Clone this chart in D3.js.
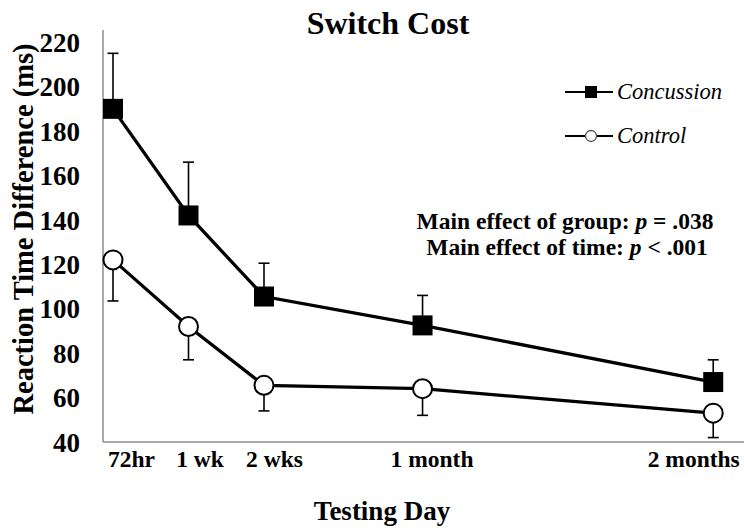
<!DOCTYPE html>
<meta charset="utf-8">
<style>
body { margin: 0; background: #fff; }
</style>
<svg width="744" height="529"></svg>
<script src="https://d3js.org/d3.v7.min.js"></script>
<script>
// testing days, placed on a stretched axis (units roughly weeks)
var days = ["72hr", "1 wk", "2 wks", "1 month", "2 months"];
var dayPos = [0, 1, 2, 4.1, 7.95];

var concussion = [190, 142, 105.5, 92.5, 67];
var concussionErr = [25, 24, 15, 13.5, 10];
var control = [122, 92, 65.5, 64, 53];
var controlErr = [18.5, 15, 11.5, 12, 11];

var yTicks = [40, 60, 80, 100, 120, 140, 160, 180, 200, 220];

var serif = "'Liberation Serif', 'Times New Roman', 'DejaVu Serif', serif";

var svg = d3.select("svg");

var plotL = 103, plotR = 744, plotT = 30, plotB = 442;

var x = d3.scaleLinear().domain([0, 8]).range([113, 717]);
var y = d3.scaleLinear().domain([40, 225.5]).range([plotB, plotT]);

// axis lines (gray)
svg.append("line")
    .attr("x1", plotL).attr("x2", plotL)
    .attr("y1", plotT).attr("y2", plotB)
    .attr("stroke", "#8c8c8c").attr("stroke-width", 1.5);
svg.append("line")
    .attr("x1", plotL).attr("x2", plotR)
    .attr("y1", plotB).attr("y2", plotB)
    .attr("stroke", "#8c8c8c").attr("stroke-width", 1.5);

// y tick labels
var yAxis = d3.axisLeft(y).tickValues(yTicks).tickSize(0).tickPadding(0);
svg.append("g")
    .attr("transform", "translate(80,0)")
    .call(yAxis)
    .attr("font-family", serif)
    .call(function(g) { g.select(".domain").remove(); })
    .selectAll("text")
    .style("font-family", serif)
    .style("font-weight", "bold")
    .style("font-size", "27px")
    .attr("fill", "#000")
    .attr("dy", "0.34em");

// x tick labels; Excel-ish offsets so they sit like the original
var labelNudge = [18, 11, 10, 9, -20];
var xAxis = d3.axisBottom(x).tickValues(dayPos)
    .tickFormat(function(d, i) { return days[i]; })
    .tickSize(0).tickPadding(0);
svg.append("g")
    .attr("transform", "translate(0," + plotB + ")")
    .call(xAxis)
    .attr("font-family", serif)
    .call(function(g) { g.select(".domain").remove(); })
    .selectAll("text")
    .style("font-family", serif)
    .style("font-weight", "bold")
    .style("font-size", "23.5px")
    .attr("fill", "#000")
    .attr("dy", "25px")
    .attr("dx", function(d, i) { return labelNudge[i]; });

var line = d3.line()
    .x(function(d, i) { return x(dayPos[i]); })
    .y(function(d) { return y(d); });

// error bars: concussion up, control down
function errBars(vals, errs, sign) {
  var g = svg.append("g").attr("stroke", "#000").attr("stroke-width", 1.6);
  vals.forEach(function(v, i) {
    var cx = x(dayPos[i]), yEnd = y(v + sign * errs[i]);
    g.append("line").attr("x1", cx).attr("x2", cx)
        .attr("y1", y(v)).attr("y2", yEnd);
    g.append("line").attr("x1", cx - 5.5).attr("x2", cx + 5.5)
        .attr("y1", yEnd).attr("y2", yEnd);
  });
}
errBars(concussion, concussionErr, 1);
errBars(control, controlErr, -1);

svg.append("path").datum(concussion)
    .attr("d", line).attr("fill", "none")
    .attr("stroke", "#000").attr("stroke-width", 3.3);
svg.append("path").datum(control)
    .attr("d", line).attr("fill", "none")
    .attr("stroke", "#000").attr("stroke-width", 3.3);

svg.selectAll(".sq").data(concussion).enter().append("rect")
    .attr("class", "sq")
    .attr("x", function(d, i) { return x(dayPos[i]) - 10; })
    .attr("y", function(d) { return y(d) - 10; })
    .attr("width", 20).attr("height", 20)
    .attr("fill", "#000");

svg.selectAll(".dot").data(control).enter().append("circle")
    .attr("class", "dot")
    .attr("cx", function(d, i) { return x(dayPos[i]); })
    .attr("cy", function(d) { return y(d); })
    .attr("r", 9.5)
    .attr("fill", "#fff").attr("stroke", "#000").attr("stroke-width", 2);

function txt(sel) {
  return sel.style("font-family", serif).attr("fill", "#000");
}

// title
txt(svg.append("text"))
    .attr("x", 388).attr("y", 34)
    .attr("text-anchor", "middle")
    .style("font-size", "32px").style("font-weight", "bold")
    .text("Switch Cost");

// axis titles
txt(svg.append("text"))
    .attr("transform", "translate(33,229) rotate(-90)")
    .attr("text-anchor", "middle")
    .style("font-size", "28.5px").style("font-weight", "bold")
    .text("Reaction Time Difference (ms)");

txt(svg.append("text"))
    .attr("x", 382).attr("y", 520)
    .attr("text-anchor", "middle")
    .style("font-size", "27px").style("font-weight", "bold")
    .text("Testing Day");

// legend
var legend = svg.append("g");
legend.append("line").attr("x1", 565).attr("x2", 613).attr("y1", 92).attr("y2", 92)
    .attr("stroke", "#000").attr("stroke-width", 2);
legend.append("rect").attr("x", 585).attr("y", 86).attr("width", 12).attr("height", 12)
    .attr("fill", "#000");
txt(legend.append("text")).attr("x", 617).attr("y", 99)
    .style("font-size", "22.5px").style("font-style", "italic")
    .text("Concussion");
legend.append("line").attr("x1", 565).attr("x2", 613).attr("y1", 136).attr("y2", 136)
    .attr("stroke", "#000").attr("stroke-width", 2);
legend.append("circle").attr("cx", 591).attr("cy", 136).attr("r", 5.5)
    .attr("fill", "#fff").attr("stroke", "#555").attr("stroke-width", 1.3);
txt(legend.append("text")).attr("x", 617).attr("y", 143)
    .style("font-size", "22.5px").style("font-style", "italic")
    .text("Control");

// stats note
var note = svg.append("g").style("font-size", "23.5px").style("font-weight", "bold");
var t1 = txt(note.append("text")).attr("x", 565).attr("y", 229).attr("text-anchor", "middle");
t1.append("tspan").text("Main effect of group: ");
t1.append("tspan").style("font-style", "italic").text("p");
t1.append("tspan").text(" = .038");
var t2 = txt(note.append("text")).attr("x", 567).attr("y", 255).attr("text-anchor", "middle");
t2.append("tspan").text("Main effect of time: ");
t2.append("tspan").style("font-style", "italic").text("p");
t2.append("tspan").text(" < .001");
</script>
